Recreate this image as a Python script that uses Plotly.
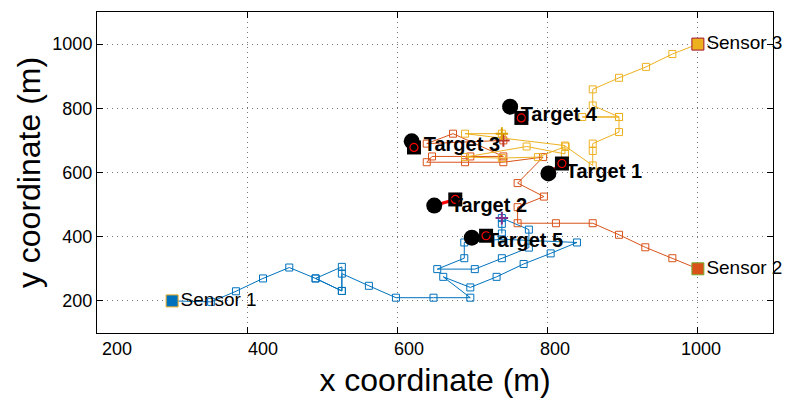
import plotly.graph_objects as go

# ---- data ----
sensor_names = ["Sensor 1", "Sensor 2", "Sensor 3"]
sensor_x = [300, 1000, 1000]
sensor_y = [200, 300, 1000]

path1_x = [300, 352, 385, 421, 456, 491, 526, 491, 526, 526, 526, 562, 598, 648, 697, 661, 697, 732, 768, 804, 839,
           739, 689, 689, 653, 703, 739, 775, 775, 739, 739, 739]
path1_y = [200, 197, 230, 270, 304, 270, 231, 270, 306, 231, 285, 247, 210, 210, 210, 275, 242, 275, 315, 348, 382,
           392, 382, 333, 299, 299, 333, 366, 422, 458, 440, 410]

path2_x = [1000, 966, 930, 895, 860, 811, 760, 760, 795, 760, 794, 741, 690, 639, 646, 697, 741, 674, 639, 741]
path2_y = [300, 333, 367, 406, 442, 442, 442, 492, 525, 567, 648, 632, 632, 632, 650, 650, 650, 721, 690, 700]

path3_x = [1000, 966, 931, 895, 860, 860, 895, 846, 895, 895, 860, 860, 860, 824, 787, 739, 690, 772, 823, 823, 690, 739]
path3_y = [1000, 969, 929, 895, 859, 809, 773, 773, 773, 726, 690, 667, 622, 681, 648, 645, 648, 681, 658, 684, 721, 721]

target_names = ["Target 1", "Target 2", "Target 3", "Target 4", "Target 5"]
target_x = [801, 649, 619, 750, 699]
target_y = [597, 497, 697, 805, 397]
estimate_x = [819, 677, 622, 765, 718]
estimate_y = [628, 516, 678, 770, 403]
label_x = [824, 671, 635, 764, 719]
label_y = [600, 494, 684, 775, 384]

x_ticks = [200, 400, 600, 800, 1000]
y_ticks = [200, 400, 600, 800, 1000]
x_range = [200, 1100]
y_range = [100, 1100]
# the tick-label row of the picture is laid out slightly narrower than the axis
x_label_range = [172.6, 1098.6]

# ---- styles ----
blue = "#0072BD"
orange = "#D95319"
yellow = "#EDB120"
purple = "#7E2F8E"
green = "#77AC30"
dark_red = "#A2142F"
font_family = "Liberation Sans, Arial, sans-serif"

fig = go.Figure()

paths = [(path1_x, path1_y, blue, purple), (path2_x, path2_y, orange, "#C0392B"), (path3_x, path3_y, yellow, "#D9A000")]
for px, py, col, endcol in paths:
    fig.add_trace(go.Scatter(x=px, y=py, mode="lines+markers",
                             line=dict(color=col, width=1),
                             marker=dict(symbol="square-open", size=7, color=col, line=dict(width=1)),
                             showlegend=False, hoverinfo="skip"))

# end-point markers of each path
end_idx = [29, 19, 21]
for (px, py, col, endcol), k in zip(paths, end_idx):
    fig.add_trace(go.Scatter(x=[px[k]], y=[py[k]], mode="markers",
                             marker=dict(symbol="cross-thin-open", size=9, color=endcol, line=dict(width=2, color=endcol)),
                             showlegend=False, hoverinfo="skip"))

# sensors
fig.add_trace(go.Scatter(x=sensor_x, y=sensor_y, mode="markers+text",
                         text=sensor_names, textposition="middle right", cliponaxis=False,
                         textfont=dict(family=font_family, size=19, color="black"),
                         marker=dict(symbol="square", size=12, color=[blue, orange, yellow],
                                     line=dict(width=1, color=[yellow, green, dark_red])),
                         showlegend=False, hoverinfo="skip"))

# red estimate track (beneath the target markers)
for tx, ty, ex, ey in zip(target_x, target_y, estimate_x, estimate_y):
    fig.add_trace(go.Scatter(x=[tx, ex], y=[ty, ey], mode="lines",
                             line=dict(color="red", width=3),
                             showlegend=False, hoverinfo="skip"))
# targets: true position (circle)
fig.add_trace(go.Scatter(x=target_x, y=target_y, mode="markers",
                         marker=dict(symbol="circle", size=16, color="black"),
                         showlegend=False, hoverinfo="skip"))
# estimates (square)
fig.add_trace(go.Scatter(x=estimate_x, y=estimate_y, mode="markers",
                         marker=dict(symbol="square", size=14, color="black"),
                         showlegend=False, hoverinfo="skip"))
fig.add_trace(go.Scatter(x=estimate_x, y=estimate_y, mode="markers",
                         marker=dict(symbol="circle-open", size=8, color="red", line=dict(width=1.2)),
                         showlegend=False, hoverinfo="skip"))
# target labels
fig.add_trace(go.Scatter(x=label_x, y=label_y, mode="text", cliponaxis=False,
                         text=["<b>%s</b>" % t for t in target_names], textposition="middle right",
                         textfont=dict(family=font_family, size=20, color="black"),
                         showlegend=False, hoverinfo="skip"))

# invisible trace to activate the tick-label axis
fig.add_trace(go.Scatter(x=[x_ticks[2]], y=[y_ticks[2]], xaxis="x2", mode="markers",
                         marker=dict(opacity=0), showlegend=False, hoverinfo="skip"))

axis_common = dict(showline=True, linecolor="black", linewidth=1, mirror="ticks",
                   ticks="inside", ticklen=6, tickcolor="black",
                   showgrid=True, gridcolor="#777777", griddash="1px,4px", gridwidth=1,
                   zeroline=False, tickfont=dict(family=font_family, size=18, color="black"))

fig.update_layout(
    width=788, height=411,
    margin=dict(l=97, r=15, t=12, b=78),
    paper_bgcolor="white", plot_bgcolor="white",
    xaxis=dict(range=x_range, tickvals=x_ticks, showticklabels=False, **axis_common),
    xaxis2=dict(range=x_label_range, overlaying="x", side="bottom", anchor="y",
                tickvals=x_ticks, ticktext=[str(v) for v in x_ticks],
                ticks="", showgrid=False, showline=False, zeroline=False,
                ticklabelstandoff=3,
                tickfont=dict(family=font_family, size=18, color="black"),
                title=dict(text="x coordinate (m)", font=dict(family=font_family, size=32, color="black"), standoff=10)),
    yaxis=dict(range=y_range, tickvals=y_ticks, ticktext=[str(v) for v in y_ticks],
               title=dict(text="y coordinate (m)", font=dict(family=font_family, size=32, color="black"), standoff=2),
               **axis_common),
)

fig.write_html("out.html")
